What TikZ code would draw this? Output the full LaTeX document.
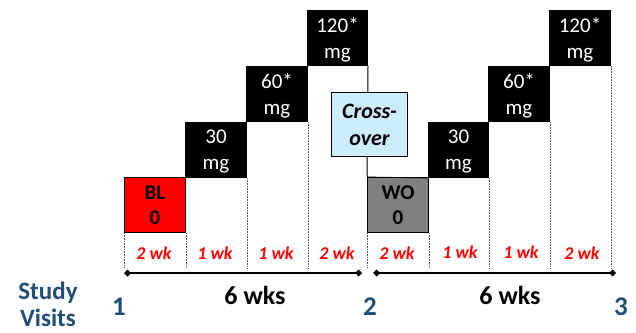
\documentclass[tikz,border=0pt]{standalone}
\usepackage{fontspec}
\setmainfont{Carlito}
\usetikzlibrary{arrows.meta}
\definecolor{xblue}{RGB}{204,236,255}
\definecolor{visit}{RGB}{31,78,121}
\definecolor{wogray}{RGB}{128,128,128}
\definecolor{wkred}{RGB}{255,0,0}
\begin{document}
\begin{tikzpicture}[x=1pt,y=-1pt,
  cell/.style={draw=black, line width=1pt, inner sep=0pt, align=center, anchor=north west,
    minimum height=55pt, text depth=0pt, font=\fontsize{21}{26}\selectfont},
  dosebox/.style={cell, fill=black, text=white},
  zerobox/.style={cell, font=\bfseries\fontsize{21}{25}\selectfont},
  dotline/.style={densely dotted, line width=0.6pt, black!65},
  wklabel/.style={anchor=base, text=wkred, font=\bfseries\itshape\fontsize{18}{20}\selectfont},
  axisline/.style={line width=1.6pt, {Diamond[length=7pt,width=7pt]}-{Diamond[length=7pt,width=7pt]}},
  visitnum/.style={anchor=base, text=visit, font=\bfseries\fontsize{27}{30}\selectfont},
  visitword/.style={anchor=base, text=visit, font=\bfseries\fontsize{25}{29}\selectfont},
  spanlabel/.style={anchor=base, font=\bfseries\fontsize{26}{30}\selectfont}]
\useasboundingbox (0,0) rectangle (636,332);

% left block
\node[zerobox, fill=wkred, minimum width=61pt] (bl) at (124,177) {BL\\0};
\node[dosebox, minimum width=61pt] (l30) at (185,122) {30\\mg};
\node[dosebox, minimum width=61pt] (l60) at (246,66) {60*\\mg};
\node[dosebox, minimum width=60pt] (l120) at (307,10) {120*\\mg};

% right block
\node[zerobox, fill=wogray, minimum width=61pt] (wo) at (367,177) {WO\\0};
\node[dosebox, minimum width=60pt] (r30) at (428,122) {30\\mg};
\node[dosebox, minimum width=61pt] (r60) at (488,66) {60*\\mg};
\node[dosebox, minimum width=61pt] (r120) at (549,10) {120*\\mg};

% divider behind crossover
\draw[line width=1pt] (l120.south east) -- (wo.north west);
\draw[line width=0.8pt] (wo.north west) -- (r30.south west);

% crossover box
\node[draw=black, line width=1pt, fill=xblue, inner sep=0pt, anchor=north west,
  minimum width=76pt, minimum height=64pt, align=center, text depth=0pt,
  font=\bfseries\itshape\fontsize{22}{27}\selectfont] (cross) at (331,92) {Cross-\\over};

% dotted column lines
\coordinate (base) at (0,268);
\draw[dotline] (bl.south west) -- (bl.south west |- base);
\draw[dotline] (bl.south east) -- (bl.south east |- base);
\draw[dotline] (l30.south east) -- (l30.south east |- base);
\draw[dotline] (l60.south east) -- (l60.south east |- base);
\draw[dotline] (wo.south west) -- (wo.south west |- base);
\draw[dotline] (wo.south east) -- (wo.south east |- base);
\draw[dotline] (r30.south east) -- (r30.south east |- base);
\draw[dotline] (r60.south east) -- (r60.south east |- base);
\draw[dotline] (r120.south east) -- (r120.south east |- base);

% week labels
\node[wklabel] (w1) at (154,259) {2 wk};
\node[wklabel] (w2) at (215,259) {1 wk};
\node[wklabel] (w3) at (276,259) {1 wk};
\node[wklabel] (w4) at (337,259) {2 wk};
\node[wklabel] (w5) at (397,259) {2 wk};
\node[wklabel] (w6) at (460,258) {1 wk};
\node[wklabel] (w7) at (521,258) {1 wk};
\node[wklabel] (w8) at (582,259) {2 wk};

% axis
\coordinate (a1) at (124,273);
\coordinate (a2) at (362,273);
\coordinate (a3) at (373,273);
\coordinate (a4) at (616,273);
\draw[axisline] (a1) -- (a2);
\draw[axisline] (a3) -- (a4);

% bottom labels
\node[visitword] (sv) at (48,299) {Study};
\node[visitword] (sv2) at (48,326) {Visits};
\node[visitnum] (v1) at (119,315) {1};
\node[visitnum] (v2) at (370,315) {2};
\node[visitnum] (v3) at (621,315) {3};
\node[spanlabel] (s1) at (255,304) {6 wks};
\node[spanlabel] (s2) at (510,304) {6 wks};
\end{tikzpicture}
\end{document}
